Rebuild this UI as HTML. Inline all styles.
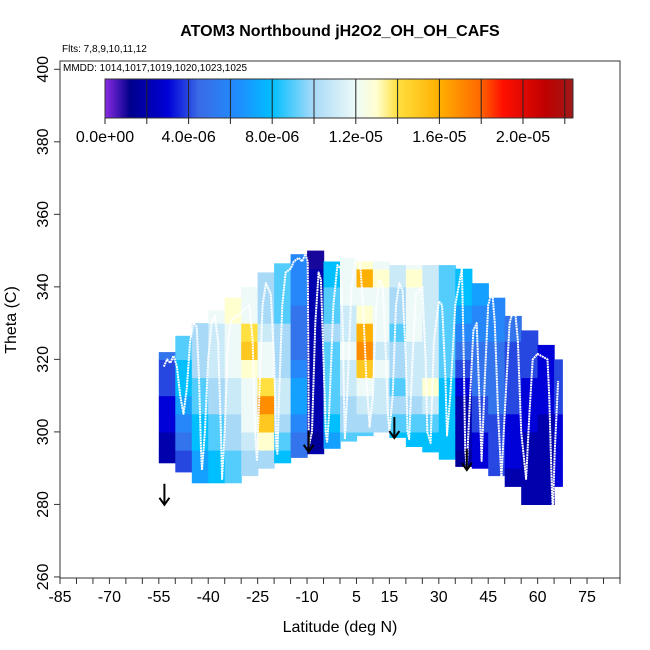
<!DOCTYPE html>
<html><head><meta charset="utf-8">
<style>
html,body{margin:0;padding:0;background:#fff;}
svg{display:block;font-family:"Liberation Sans",sans-serif;}
</style></head>
<body>
<svg id="chart" width="650" height="650" viewBox="0 0 650 650">
<defs>
<linearGradient id="cbgrad" x1="0" x2="1" y1="0" y2="0">
<stop offset="0" stop-color="#8a2be2"/>
<stop offset="0.054" stop-color="#00008b"/>
<stop offset="0.134" stop-color="#0000d8"/>
<stop offset="0.2" stop-color="#3a6ae6"/>
<stop offset="0.29" stop-color="#1e90ff"/>
<stop offset="0.357" stop-color="#00bfff"/>
<stop offset="0.446" stop-color="#a8daf8"/>
<stop offset="0.536" stop-color="#eefaf8"/>
<stop offset="0.58" stop-color="#ffffd0"/>
<stop offset="0.625" stop-color="#ffe040"/>
<stop offset="0.714" stop-color="#ffb000"/>
<stop offset="0.80" stop-color="#ff6a00"/>
<stop offset="0.85" stop-color="#ff1000"/>
<stop offset="0.94" stop-color="#c00000"/>
<stop offset="1" stop-color="#a01818"/>
</linearGradient>
</defs>
<text x="340" y="36" text-anchor="middle" font-size="16" font-weight="bold">ATOM3 Northbound jH2O2_OH_OH_CAFS</text>
<text x="62" y="52" font-size="10">Flts: 7,8,9,10,11,12</text>
<g id="heat"></g>
<g id="track"></g>
<g id="arrows"></g>
<rect x="60" y="61" width="560" height="517" fill="none" stroke="#333" stroke-width="1"/>
<text x="63" y="71" font-size="10">MMDD: 1014,1017,1019,1020,1023,1025</text>
<g id="colorbar">
<rect x="105" y="79" width="468" height="39" fill="url(#cbgrad)" stroke="#333" stroke-width="1"/>
</g>
<g id="xaxis"></g>
<g id="yaxis"></g>
<text x="340" y="632" text-anchor="middle" font-size="16">Latitude (deg N)</text>
<text transform="translate(16,320) rotate(-90)" text-anchor="middle" font-size="16">Theta (C)</text>
</svg>
<script>
const colLats=[-55,-50,-45,-40,-35,-30,-25,-20,-15,-10,-5,0,5,10,15,20,25,30,35,40,45,50,55,60,65];
const colTops=[322,326.5,330,333.5,337,340,344,346.5,349,350,347,348,347,347,346,346,346,346,345,341,337,332,328,324,320];
const colBottoms=[291.5,289,286,286,286,288,290,291.5,293,294,295.5,297.5,299,300,298.5,296,294.5,292.5,290.5,290,288,285,280,280,285];
const rowStarts=[275,280,285,290,295,300,305,310,315,320,325,330,335,340,345];
const colValues=[
[2,2,2,2,2,3,3,4,4,5,5,5,5,5,5],
[4,4,4,4,5,6,7,8,8,9,9,9,10,10,10],
[7,7,7,7,8,8,9,9,10,10,10,11,11,11,11],
[8,8,8,8,9,9,10,10,11,11,11,12,12,12,12],
[9,9,9,9,10,10,11,11,12,12,12,13,13,12,12],
[10,10,10,10,11,12,12,12,13,15,14,12,12,12,12],
[10,10,10,10,13,15,17,14,12,12,11,10,10,10,10],
[8,8,8,8,9,10,11,11,10,10,10,9,9,9,9],
[5,5,5,5,5,6,7,7,6,5,5,5,6,6,6],
[2,2,2,2,1.5,2,2,2,2,2,2,2,2,2,1],
[6,6,6,6,7,8,9,9,9,9,10,9,9,8,8],
[8,8,8,8,9,10,10,11,11,12,11,11,12,12,12],
[9,9,9,9,9,10,11,12,15,17,16,13,12,16,13],
[9,9,9,9,9,10,11,11,12,11,12,12,12,13,12],
[8,8,8,8,8,9,10,9,10,10,9,10,10,11,11],
[8,8,8,8,8,9,10,11,11,11,12,12,12,13,12],
[8,8,8,8,8,9,11,13,11,11,11,11,11,11,11],
[8,8,8,8,8,8,8,8,9,9,9,9,9,9,9],
[2,2,2,1.5,2,2,2,3,4,5,6,7,8,8,8],
[3,3,3,3,3,4,4,5,5,5,6,6,7,7,7],
[4,4,4,4,4,4,5,5,5,5,6,6,6,6,6],
[2,2,2,3,3,3,4,4,4,4,5,5,5,5,5],
[2,2,2,2,2,3,3,3,4,4,4,4,4,4,4],
[2,2,2,2,2,2,3,3,3,3,3,3,3,3,3],
[3,3,3,3,3,3,4,4,4,4,4,4,4,4,4]
];
const trackLats=[-53.5,-52.5,-51.5,-50.5,-49.5,-48.5,-47.5,-46.5,-45.5,-44.5,-43.5,-42.8,-42.2,-41.9,-41,-40,-39,-38,-37,-36.3,-35.8,-35,-34,-33,-31,-29,-27.5,-26.5,-25.8,-25.2,-24.5,-23.5,-22.5,-21,-20,-19.3,-19,-18.5,-17.5,-16.5,-15,-14,-12.5,-11.5,-10.5,-9.8,-9.6,-9.5,-8.5,-7.5,-6.5,-5.8,-5,-4.3,-3.9,-3.3,-2,-0.8,0.2,0.8,1.3,1.5,2.2,3.5,5,6,7,8,9,10,11,12,13,14,14.5,15,16,17,18,19,20,20.5,21,22,23,25,26,26.5,27.5,28.5,30,31,32,32.5,33.5,35,37,37.6,38,38.5,39.5,40.5,41.5,42.3,43,44,45,46.2,47,48,49,50,51.5,53,54,55,56.5,57.5,58.5,60,63,63.5,64.3,64.6,65.2,66.2];
const trackThetas=[318,320,319,321,318,310,305,312,325,330,329,315,295,289.5,300,320,330,332,325,305,287,300,325,331,332,334,335,325,300,292,310,335,341,338,320,296,294,310,335,344,345,347,348,347,349,347,320,296,300,330,344,342,320,300,297,305,335,346,345,330,305,298,310,340,349,348,335,315,301.4,310,335,342,340,320,305,300,310,335,341,339,320,300,298,320,338,340,320,300,297,325,336,335,315,299,310,335,345,320,295,290,310,328,330,310,292,315,335,339,330,305,287,305,330,335,325,300,287,305,320,321.5,320,310,285,278,295,314];
const arrowLats=[-53.3,-9.5,16.5,38.5];
const arrowThetas=[279.9,294.5,298.3,289.5];
const xTicks=[-85,-70,-55,-40,-25,-10,5,15,30,45,60,75];
const yTicks=[260,280,300,320,340,360,380,400];
const cbTicks=[0,4,8,12,16,20];
const cbTickLabels=["0.0e+00","4.0e-06","8.0e-06","1.2e-05","1.6e-05","2.0e-05"];

const NS='http://www.w3.org/2000/svg';
function X(lat){return 60+(lat+85)*3.294;}
function Y(th){return 69.3+(400-th)*3.626;}
function CBX(v){return 105+v*20.9;}
const stops=[[0,[138,43,226]],[1.2,[0,0,139]],[3,[0,0,216]],[4.5,[58,106,230]],[6.5,[30,144,255]],[8,[0,191,255]],[10,[168,218,248]],[12,[238,250,248]],[13,[255,255,208]],[14,[255,224,64]],[16,[255,176,0]],[18,[255,106,0]],[19,[255,16,0]],[21,[192,0,0]],[22.4,[160,24,24]]];
function color(v){
  for(let i=1;i<stops.length;i++){
    if(v<=stops[i][0]){const a=stops[i-1],b=stops[i];const t=(v-a[0])/(b[0]-a[0]);
      const c=a[1].map((q,k)=>Math.round(q+(b[1][k]-q)*t));return 'rgb('+c.join(',')+')';}
  }
  return 'rgb(160,24,24)';
}
function mk(tag,attrs,parent){const e=document.createElementNS(NS,tag);for(const k in attrs)e.setAttribute(k,attrs[k]);parent.appendChild(e);return e;}

const heat=document.getElementById('heat');
colLats.forEach((lat,i)=>{
  const x0=X(lat),x1=X(Math.min(lat+5,67.5));
  rowStarts.forEach((r,j)=>{
    const lo=Math.max(r,colBottoms[i]),hi=Math.min(r+5,colTops[i]);
    if(hi<=lo)return;
    const c=mk('rect',{x:x0.toFixed(1),y:Y(hi).toFixed(1),width:(x1-x0+0.6).toFixed(1),height:(Y(lo)-Y(hi)+0.6).toFixed(1),fill:color(colValues[i][j])},heat);
    
    
  });
});

const track=document.getElementById('track');
const pts=trackLats.map((l,i)=>X(l).toFixed(1)+','+Y(trackThetas[i]).toFixed(1)).join(' ');
const pl=mk('polyline',{points:pts,fill:'none',stroke:'#fff','stroke-width':2,'stroke-dasharray':'2 0.6','stroke-linejoin':'round'},track);



const arrows=document.getElementById('arrows');
arrowLats.forEach((l,i)=>{
  const x=X(l),yt=Y(arrowThetas[i]);
  const g=mk('g',{},arrows);
  
  
  mk('line',{x1:x,y1:yt-21,x2:x,y2:yt,stroke:'#000','stroke-width':2},g);
  mk('polyline',{points:(x-5)+','+(yt-7)+' '+x+','+yt+' '+(x+5)+','+(yt-7),fill:'none',stroke:'#000','stroke-width':2},g);
});

const cb=document.getElementById('colorbar');
for(let v=2;v<=22;v+=2){
  const d=mk('line',{x1:CBX(v),y1:79,x2:CBX(v),y2:124,stroke:'#222','stroke-width':1},cb);
  
  
}
mk('line',{x1:105,y1:118,x2:105,y2:124,stroke:'#222','stroke-width':1},cb);
cbTicks.forEach((v,i)=>{
  const t=mk('text',{x:CBX(v),y:142,'text-anchor':'middle','font-size':16},cb);
  t.textContent=cbTickLabels[i];
  
  
});

const xa=document.getElementById('xaxis');
for(let l=-85;l<=85;l+=5){
  const t=mk('line',{x1:X(l),y1:578,x2:X(l),y2:584,stroke:'#333','stroke-width':1},xa);
  
  
}
xTicks.forEach(v=>{
  const t=mk('text',{x:X(v),y:602,'text-anchor':'middle','font-size':16},xa);
  t.textContent=v;
  
  
});
const ya=document.getElementById('yaxis');
yTicks.forEach(v=>{
  const y=Y(v);
  const t=mk('line',{x1:54,y1:y,x2:60,y2:y,stroke:'#333','stroke-width':1},ya);
  
  
  const l=mk('text',{transform:'translate(48,'+y+') rotate(-90)','text-anchor':'middle','font-size':16},ya);
  l.textContent=v;
  
  
});
</script>
</body></html>
